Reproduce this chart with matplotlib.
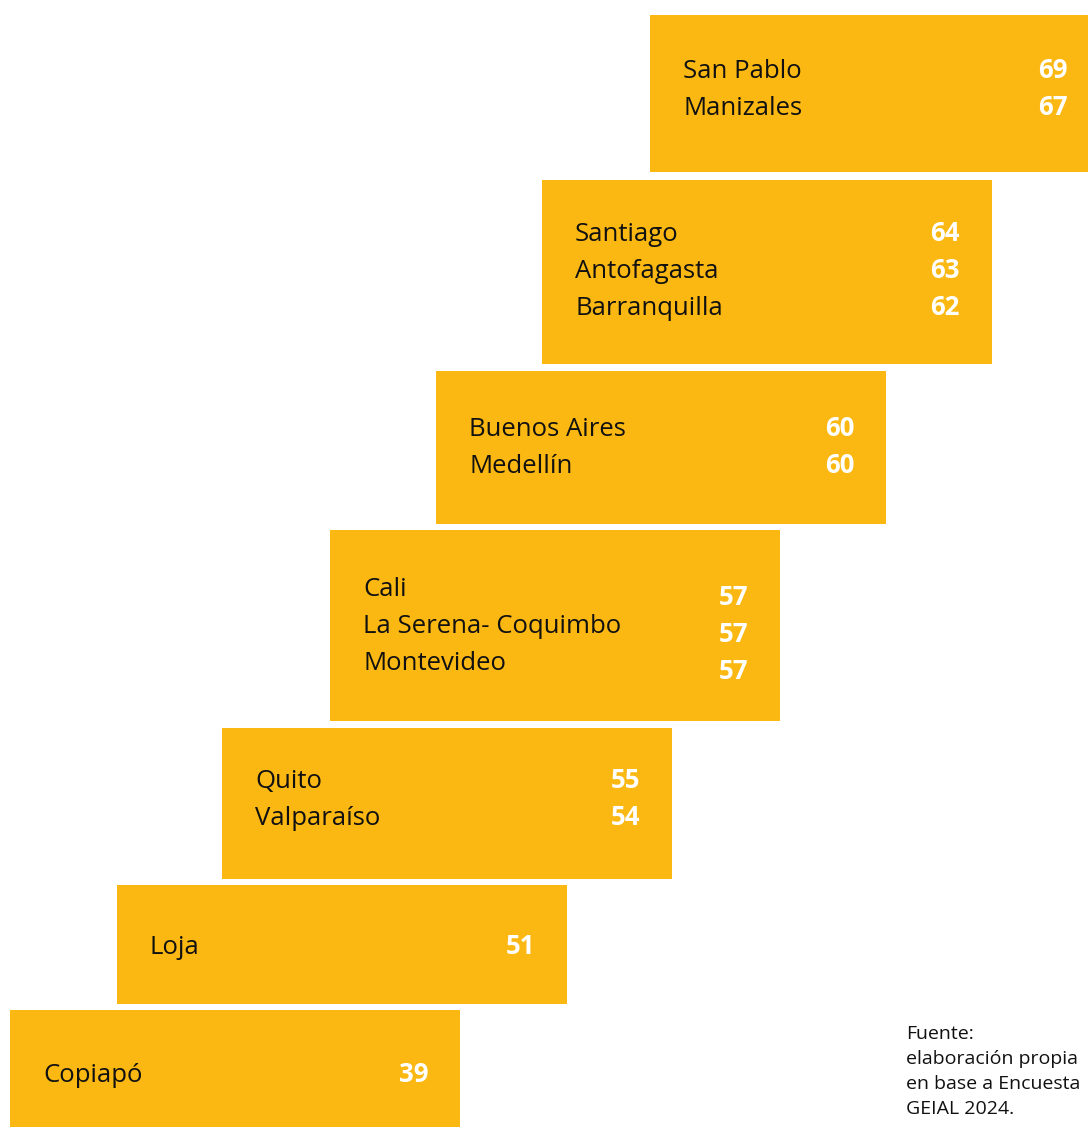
import matplotlib
matplotlib.use("Agg")
import matplotlib.pyplot as plt
from matplotlib.patches import Rectangle

# groups of cities, top step first
group_cities = [
    ["San Pablo", "Manizales"],
    ["Santiago", "Antofagasta", "Barranquilla"],
    ["Buenos Aires", "Medellín"],
    ["Cali", "La Serena- Coquimbo", "Montevideo"],
    ["Quito", "Valparaíso"],
    ["Loja"],
    ["Copiapó"],
]
group_values = [
    [69, 67],
    [64, 63, 62],
    [60, 60],
    [57, 57, 57],
    [55, 54],
    [51],
    [39],
]
source_note = "Fuente:\nelaboración propia\nen base a Encuesta\nGEIAL 2024."

# step layout in pixels (x0, y0, y1), all steps 450 px wide
step_x0 = [650, 542, 436, 330, 222, 117, 10]
step_y = [(15, 172), (180, 364), (371, 524), (530, 721), (728, 879), (885, 1004), (1010, 1127)]
step_w = 450
# baseline of first row in each step
name_base = [78, 241, 436, 596, 788, 954, 1082]
value_dy = [0, 0, 0, 9, 0, 0, 0]
row_h = 37

YELLOW = "#FBB813"
FONT = "Open Sans"

fig = plt.figure(figsize=(10.88, 11.27), dpi=100)
ax = fig.add_axes([0, 0, 1, 1])
ax.set_xlim(0, 1088)
ax.set_ylim(1127, 0)
ax.axis("off")

for i, (cities, vals) in enumerate(zip(group_cities, group_values)):
    x0 = step_x0[i]
    y0, y1 = step_y[i]
    ax.add_patch(Rectangle((x0, y0), step_w, y1 - y0, color=YELLOW, lw=0))
    for j, (c, v) in enumerate(zip(cities, vals)):
        y = name_base[i] + j * row_h
        ax.text(x0 + 33, y, c, fontsize=18.5, family=FONT, fontweight="medium",
                color="#111111", ha="left", va="baseline")
        ax.text(x0 + step_w - 32, y + value_dy[i], str(v), fontsize=18.5,
                family=FONT, fontweight="bold", color="white",
                ha="right", va="baseline")

ax.text(906, 1025, source_note, fontsize=14, family=FONT, color="#111111",
        ha="left", va="top", linespacing=1.5)

fig.savefig("out.png", dpi=100)
